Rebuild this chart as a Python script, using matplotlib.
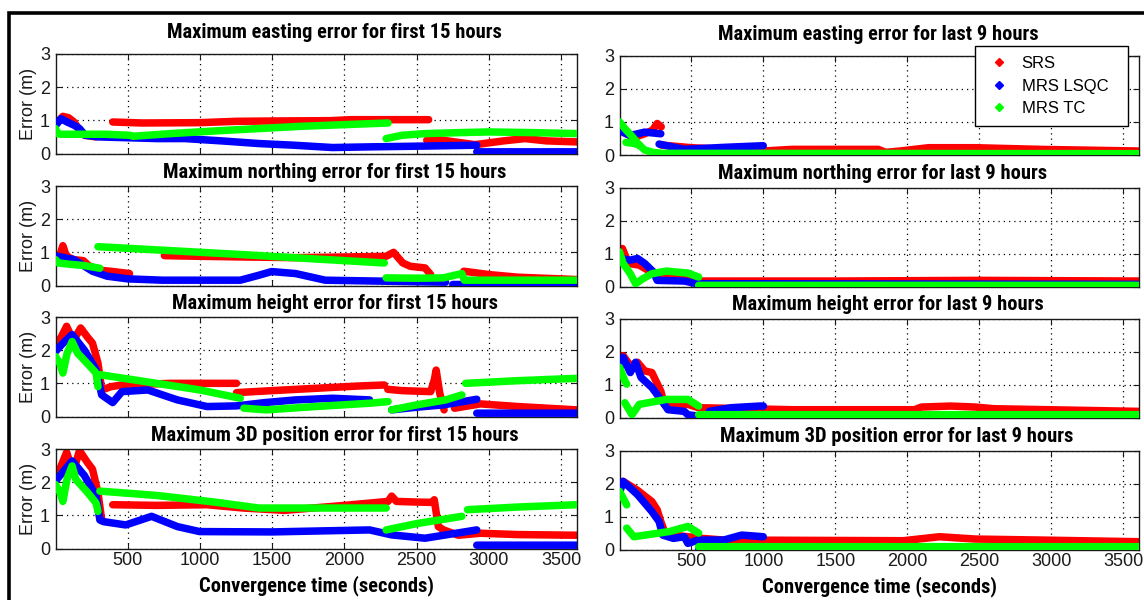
import numpy as np
import matplotlib
matplotlib.use("Agg")
import matplotlib.pyplot as plt
from matplotlib import font_manager
from matplotlib.lines import Line2D
from matplotlib.patches import Rectangle

nan = np.nan

# ---------------------------------------------------------------------------
# Maximum error (m) versus convergence time (s); nan separates track segments
# ---------------------------------------------------------------------------
# Easting, first 15 hours
east15_srs_t = [0, 25, 51, 90, 128, 160, 200, 280, nan,
                396, 600, 1000, 1250, 1500, 1900, 2050, 2583, nan,
                2570, 2650, 2762, 2900, 2930, 3100, 3250, 3400, 3606]
east15_srs_e = [0.85, 1.0, 1.12, 1.08, 0.95, 0.75, 0.55, 0.5, nan,
                0.95, 0.92, 0.93, 0.97, 0.98, 0.99, 1.02, 1.02, nan,
                0.4, 0.42, 0.35, 0.27, 0.28, 0.38, 0.45, 0.38, 0.35]
east15_lsqc_t = [0, 20, 38, 80, 130, 166, 205, 300, 460, 700, 895, 1150, 1407, 1650,
                 1918, 2174, 2500, 2916, nan, 2916, 3606]
east15_lsqc_e = [0.85, 0.95, 1.05, 0.95, 0.85, 0.75, 0.55, 0.5, 0.48, 0.45, 0.45, 0.38, 0.3,
                 0.25, 0.18, 0.2, 0.22, 0.25, nan, 0.05, 0.05]
east15_tc_t = [0, 13, 40, 200, 350, 512, 537, 800, 1100, 1400, 1700, 2000, 2302, nan,
               2289, 2400, 2558, 2800, 3000, 3300, 3606]
east15_tc_e = [0.75, 0.6, 0.58, 0.58, 0.58, 0.55, 0.52, 0.6, 0.68, 0.75, 0.82, 0.87, 0.92, nan,
               0.45, 0.55, 0.6, 0.63, 0.65, 0.63, 0.6]

# Northing, first 15 hours
north15_srs_t = [0, 30, 51, 70, 90, 128, 192, 230, 307, 400, 512, nan,
                 754, 1000, 1300, 1662, 2000, 2289, 2340, 2404, 2455, 2558, 2597, nan,
                 2826, 3000, 3200, 3606]
north15_srs_e = [0.78, 0.9, 1.2, 0.95, 0.85, 0.78, 0.75, 0.6, 0.46, 0.42, 0.36, nan,
                 0.9, 0.88, 0.86, 0.84, 0.86, 0.88, 1.0, 0.68, 0.58, 0.53, 0.33, nan,
                 0.43, 0.33, 0.25, 0.18]
north15_lsqc_t = [0, 50, 128, 256, 358, 500, 742, 1279, 1400, 1496, 1662, 1867, 2276, 2700, nan,
                  2750, 3606]
north15_lsqc_e = [0.89, 0.85, 0.78, 0.43, 0.28, 0.2, 0.16, 0.16, 0.3, 0.42, 0.36, 0.16, 0.13, 0.1, nan,
                  0.03, 0.03]
north15_tc_t = [0, 20, 100, 200, 307, nan,
                294, 800, 1300, 1800, 2276, nan,
                2289, 2500, 2685, 2813, 2830, 3000, 3606]
north15_tc_e = [0.78, 0.68, 0.64, 0.6, 0.52, nan,
                1.17, 1.05, 0.93, 0.8, 0.68, nan,
                0.23, 0.22, 0.23, 0.36, 0.16, 0.16, 0.16]

# Height, first 15 hours
height15_srs_t = [0, 40, 77, 100, 128, 174, 220, 256, 294, 320, 384, 460, 800, 1253, nan,
                  1253, 1500, 1800, 2100, 2276, nan,
                  2300, 2400, 2597, 2622, 2635, 2660, 2690, nan,
                  2762, 2941, 3200, 3606]
height15_srs_e = [2.11, 2.4, 2.72, 2.5, 2.31, 2.67, 2.4, 2.21, 1.61, 0.8, 0.9, 0.95, 1.0, 1.0, nan,
                  0.72, 0.78, 0.85, 0.92, 0.95, nan,
                  0.82, 0.78, 0.75, 1.1, 1.4, 0.7, 0.2, nan,
                  0.25, 0.38, 0.3, 0.2]
height15_lsqc_t = [0, 50, 115, 200, 281, 320, 396, 460, 639, 844, 1049, 1253, 1450, 1662, 1918, 2174, nan,
                   2327, 2500, 2685, 2916, nan, 2916, 3606]
height15_lsqc_e = [1.96, 2.2, 2.47, 2.0, 1.41, 0.65, 0.42, 0.75, 0.8, 0.5, 0.3, 0.32, 0.42, 0.5, 0.55, 0.5, nan,
                   0.2, 0.28, 0.35, 0.52, nan, 0.1, 0.1]
height15_tc_t = [0, 30, 51, 80, 115, 153, 220, 281, 294, nan,
                 307, 700, 1000, 1279, nan,
                 1304, 1458, 1800, 2174, 2302, nan,
                 2327, 2500, 2700, 2813, nan,
                 2839, 3200, 3606]
height15_tc_e = [1.81, 1.6, 1.31, 1.9, 2.26, 1.91, 1.6, 1.31, 0.9, nan,
                 1.26, 1.0, 0.8, 0.55, nan,
                 0.25, 0.2, 0.3, 0.4, 0.45, nan,
                 0.2, 0.35, 0.5, 0.65, nan,
                 1.0, 1.08, 1.15]

# 3D position, first 15 hours
pos15_srs_t = [0, 40, 77, 100, 128, 166, 220, 256, 294, 320, nan,
               396, 700, 1049, 1300, 1586, 2000, 2302, 2327, 2360, 2500, 2609, 2622,
               2650, 2686, 2788, 2941, 3200, 3606]
pos15_srs_e = [2.08, 2.5, 2.9, 2.6, 2.39, 2.95, 2.6, 2.39, 1.68, 0.86, nan,
               1.32, 1.3, 1.32, 1.22, 1.15, 1.3, 1.42, 1.58, 1.42, 1.4, 1.39, 1.47,
               0.66, 0.56, 0.4, 0.46, 0.42, 0.4]
pos15_lsqc_t = [0, 50, 115, 200, 281, 307, 332, 486, 665, 844, 998, 1500, 2174, 2327, 2558, 2916, nan,
                2916, 3606]
pos15_lsqc_e = [2.03, 2.3, 2.64, 2.2, 1.58, 0.86, 0.81, 0.71, 0.97, 0.66, 0.51, 0.5, 0.56, 0.41, 0.31, 0.56, nan,
                0.1, 0.1]
pos15_tc_t = [0, 30, 51, 80, 115, 141, 220, 281, 294, nan,
              307, 700, 1100, 1407, 2289, nan,
              2289, 2500, 2813, nan,
              2852, 3200, 3606]
pos15_tc_e = [1.93, 1.7, 1.42, 2.1, 2.49, 2.08, 1.7, 1.37, 1.12, nan,
              1.73, 1.6, 1.4, 1.22, 1.22, nan,
              0.56, 0.75, 0.97, nan,
              1.17, 1.25, 1.32]

# Easting, last 9 hours
east9_srs_t = [0, 50, 100, 175, 230, 262, 290, nan,
               290, 500, 1000, 1199, 1798, 1850, 1950, 2148, 2473, 2923, 3606]
east9_srs_e = [0.84, 0.64, 0.53, 0.64, 0.75, 0.95, 0.85, nan,
               0.3, 0.22, 0.12, 0.17, 0.17, 0.08, 0.12, 0.22, 0.22, 0.17, 0.12]
east9_lsqc_t = [0, 40, 75, 175, 287, nan, 275, 450, 724, 999]
east9_lsqc_e = [0.74, 0.65, 0.59, 0.69, 0.64, nan, 0.33, 0.17, 0.23, 0.28]
east9_tc_t = [0, 40, 90, 137, 175, 230, 300, 3606, nan, 45, 100, 137]
east9_tc_e = [1.0, 0.78, 0.55, 0.3, 0.15, 0.08, 0.05, 0.04, nan, 0.38, 0.35, 0.3]

# Northing, last 9 hours
north9_srs_t = [0, 20, 62, 137, 200, 300, 450, 550, 1500, 2500, 3606]
north9_srs_e = [0.91, 1.16, 0.71, 0.66, 0.5, 0.35, 0.25, 0.18, 0.18, 0.2, 0.18]
north9_lsqc_t = [0, 75, 125, 175, 237, 262, 450, 537, 3606]
north9_lsqc_e = [0.86, 0.81, 0.86, 0.71, 0.45, 0.2, 0.18, 0.1, 0.08]
north9_tc_t = [0, 25, 75, 112, 162, 225, 325, 475, 550, nan, 550, 3606]
north9_tc_e = [1.06, 0.71, 0.4, 0.1, 0.25, 0.4, 0.48, 0.42, 0.3, nan, 0.05, 0.05]

# Height, last 9 hours
height9_srs_t = [0, 25, 75, 125, 175, 225, 287, 312, 375, 475, 550, 1200, 2050, 2098, 2300, 2473,
                 2600, 3606]
height9_srs_e = [1.63, 1.88, 1.58, 1.68, 1.42, 1.37, 0.81, 0.41, 0.39, 0.41, 0.31, 0.25, 0.25, 0.33,
                 0.36, 0.33, 0.28, 0.2]
height9_lsqc_t = [0, 25, 75, 112, 150, 225, 287, 337, 450, 475, 540, nan,
                  625, 774, 974, 1000, nan, 540, 3606]
height9_lsqc_e = [1.47, 1.83, 1.37, 1.68, 1.22, 0.92, 0.56, 0.25, 0.2, 0.1, 0.06, nan,
                  0.2, 0.31, 0.36, 0.36, nan, 0.04, 0.04]
height9_tc_t = [0, 37, 50, nan, 37, 87, 137, 325, 475, 550, nan, 550, 3606]
height9_tc_e = [1.53, 1.12, 1.02, nan, 0.46, 0.1, 0.41, 0.56, 0.56, 0.36, nan, 0.1, 0.1]

# 3D position, last 9 hours
pos9_srs_t = [0, 25, 125, 225, 262, 287, 312, 375, 475, 575, 724, 1973, 2223, 2473, 2923, 3606]
pos9_srs_e = [1.87, 2.07, 1.8, 1.46, 1.21, 0.86, 0.56, 0.45, 0.4, 0.35, 0.3, 0.28, 0.4, 0.33, 0.3, 0.25]
pos9_lsqc_t = [0, 25, 125, 225, 275, 300, 375, 450, 475, 550, 724, 849, 999, nan, 550, 3606]
pos9_lsqc_e = [1.72, 2.07, 1.67, 1.16, 0.86, 0.45, 0.35, 0.4, 0.2, 0.3, 0.3, 0.45, 0.4, nan, 0.05, 0.05]
pos9_tc_t = [0, 50, nan, 50, 100, 350, 475, 550, nan, 550, 3606]
pos9_tc_e = [1.77, 1.36, nan, 0.66, 0.4, 0.56, 0.71, 0.51, nan, 0.1, 0.1]

series_names = ["SRS", "MRS LSQC", "MRS TC"]
series_colors = ["#ff0000", "#0000ff", "#00ff00"]

left_titles = ["Maximum easting error for first 15 hours",
               "Maximum northing error for first 15 hours",
               "Maximum height error for first 15 hours",
               "Maximum 3D position error for first 15 hours"]
right_titles = ["Maximum easting error for last 9 hours",
                "Maximum northing error for last 9 hours",
                "Maximum height error for last 9 hours",
                "Maximum 3D position error for last 9 hours"]

left_data = [
    [(east15_srs_t, east15_srs_e), (east15_lsqc_t, east15_lsqc_e), (east15_tc_t, east15_tc_e)],
    [(north15_srs_t, north15_srs_e), (north15_lsqc_t, north15_lsqc_e), (north15_tc_t, north15_tc_e)],
    [(height15_srs_t, height15_srs_e), (height15_lsqc_t, height15_lsqc_e), (height15_tc_t, height15_tc_e)],
    [(pos15_srs_t, pos15_srs_e), (pos15_lsqc_t, pos15_lsqc_e), (pos15_tc_t, pos15_tc_e)],
]
right_data = [
    [(east9_srs_t, east9_srs_e), (east9_lsqc_t, east9_lsqc_e), (east9_tc_t, east9_tc_e)],
    [(north9_srs_t, north9_srs_e), (north9_lsqc_t, north9_lsqc_e), (north9_tc_t, north9_tc_e)],
    [(height9_srs_t, height9_srs_e), (height9_lsqc_t, height9_lsqc_e), (height9_tc_t, height9_tc_e)],
    [(pos9_srs_t, pos9_srs_e), (pos9_lsqc_t, pos9_lsqc_e), (pos9_tc_t, pos9_tc_e)],
]

x_ticks = [500, 1000, 1500, 2000, 2500, 3000, 3500]
y_ticks = [0, 1, 2, 3]

# ---------------------------------------------------------------------------
# Heading font: a narrow bold face if one is installed, else a smaller regular one
installed = {f.name for f in font_manager.fontManager.ttflist}
TITLE_FONT, TITLE_SIZE = ["Liberation Sans", "DejaVu Sans"], 12.5
for narrow in ["Liberation Sans Narrow", "Arial Narrow", "Roboto Condensed",
               "Open Sans Condensed", "DejaVu Sans Condensed"]:
    if narrow in installed:
        TITLE_FONT, TITLE_SIZE = [narrow, "Liberation Sans", "DejaVu Sans"], 14.8
        break
TICK_FONT = ["Liberation Sans", "DejaVu Sans"]

W, H = 1144, 600
fig = plt.figure(figsize=(W / 100, H / 100), dpi=100)
fig.patch.set_facecolor("white")

row_tops = [54, 186, 317, 449]
row_h = 99.5
cols = [(55.5, 577.0, 0.0), (619.5, 1139.0, 1.5)]
left_title_x = [0.535, 0.535, 0.535, 0.535]
right_title_x = [0.498, 0.507, 0.516, 0.533]


def px_axes(x0, x1, top, h):
    return [x0 / W, 1 - (top + h) / H, (x1 - x0) / W, h / H]


axes_grid = []
for col, (x0, x1, dy) in enumerate(cols):
    data = left_data if col == 0 else right_data
    titles = left_titles if col == 0 else right_titles
    tx = left_title_x if col == 0 else right_title_x
    col_axes = []
    for r in range(4):
        ax = fig.add_axes(px_axes(x0, x1, row_tops[r] + dy, row_h))
        for k, (t, e) in enumerate(data[r]):
            ax.plot(t, e, color=series_colors[k], lw=5.4, solid_capstyle="round",
                    solid_joinstyle="round", zorder=2 + k)
        ax.set_xlim(0, 3610)
        ax.set_ylim(0, 3)
        ax.set_xticks(x_ticks)
        ax.set_yticks(y_ticks)
        ax.set_axisbelow(True)
        ax.grid(True, color="black", linestyle=(0, (1, 3.2)), linewidth=0.9)
        ax.tick_params(direction="in", length=4, width=0.8, top=True, right=True,
                       labelsize=13, colors="#1a1a1a", pad=4)
        ax.tick_params(axis="x", pad=2.5)
        for lab in ax.get_xticklabels() + ax.get_yticklabels():
            lab.set_family(TICK_FONT)
        for sp in ax.spines.values():
            sp.set_color("#1a1a1a")
            sp.set_linewidth(1.0)
        if r < 3:
            ax.tick_params(labelbottom=False)
        else:
            ax.set_xlabel("Convergence time (seconds)", fontsize=TITLE_SIZE, fontweight="bold",
                          family=TITLE_FONT, labelpad=4.5)
        if col == 0:
            ax.set_ylabel("Error (m)", fontsize=13, family=TICK_FONT, labelpad=2,
                          color="#1a1a1a")
        ax.set_title(titles[r], x=tx[r], fontsize=TITLE_SIZE, fontweight="bold",
                     family=TITLE_FONT, pad=11.5 if r == 0 else 6.0)
        col_axes.append(ax)
    axes_grid.append(col_axes)

# Legend in the upper-right panel, partly above its top edge
handles = [Line2D([], [], ls="none", marker="D", ms=4.5, color=c) for c in series_colors]
leg_ax = axes_grid[1][0]
leg = leg_ax.legend(handles, series_names, loc="upper left",
                    bbox_to_anchor=(975 / W, 1 - 46 / H, 153 / W, 0.0),
                    bbox_transform=fig.transFigure, mode="expand",
                    frameon=True, fancybox=False, edgecolor="black", framealpha=1,
                    borderaxespad=0, prop={"family": TICK_FONT, "size": 12},
                    handlelength=1.7, handletextpad=0.5, labelspacing=0.45,
                    borderpad=0.6)
leg.get_frame().set_linewidth(1.0)
leg.set_zorder(10)

# Heavy frame around the figure (top and left edges are inside the canvas)
frame = Rectangle((8.5 / W, -0.1), 1.2, 1.1 - 13.5 / H, transform=fig.transFigure,
                  fill=False, edgecolor="black", linewidth=2.6, clip_on=False)
fig.patches.append(frame)

fig.savefig("out.png", dpi=100, facecolor="white")
